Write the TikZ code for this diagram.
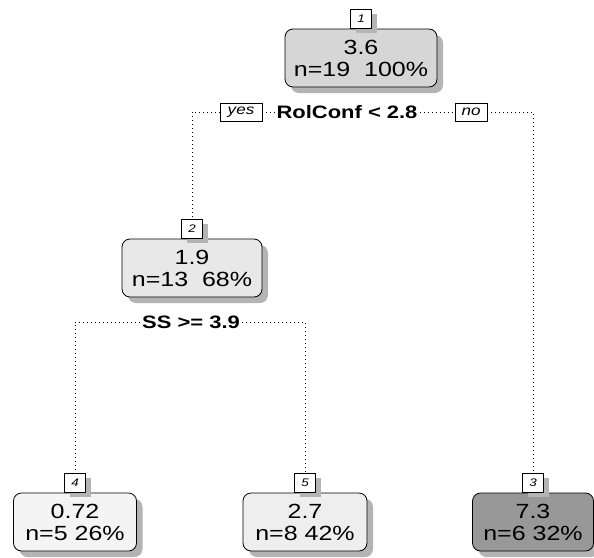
\documentclass[tikz,border=0pt]{standalone}
\usepackage{fontspec}
\setmainfont[FakeStretch=1.22]{Liberation Sans}
\usetikzlibrary{positioning}
\definecolor{leafwhite}{RGB}{244,244,244}
\definecolor{leafpale}{RGB}{238,238,238}
\definecolor{nodelight}{RGB}{232,232,232}
\definecolor{rootgray}{RGB}{214,214,214}
\definecolor{leafdark}{RGB}{152,152,152}
\definecolor{shadowgray}{RGB}{180,180,180}
\tikzset{
  treebox/.style={rectangle,rounded corners=8pt,draw=black,thick,align=center,
    minimum height=58pt,minimum width=#1,inner sep=2pt,
    font=\fontsize{20.5}{22}\selectfont},
  numbox/.style={rectangle,draw=black,fill=white,thick,minimum width=21pt,minimum height=19pt,
    inner sep=0pt,font=\fontsize{11}{11}\selectfont\itshape},
  answerbox/.style={rectangle,draw=black,fill=white,minimum height=18pt,inner sep=2pt,
    font=\fontsize{14}{14}\selectfont\itshape},
  splittext/.style={font=\fontsize{18}{18}\selectfont\bfseries,inner sep=2pt,fill=white},
  branch/.style={draw=black,line width=0.8pt,dash pattern=on 0.8pt off 3.2pt},
  boxshadow/.style={rectangle,rounded corners=8pt,fill=shadowgray,minimum height=58pt,
    minimum width=#1,inner sep=0pt},
  numshadow/.style={rectangle,fill=shadowgray,minimum width=21pt,minimum height=19pt,inner sep=0pt}
}
\begin{document}
\begin{tikzpicture}[x=1pt,y=1pt]
  \useasboundingbox (0,0) rectangle (594,-557);

  %% Shadows first
  \node[boxshadow=152pt] (sh1) at (367,-64) {};
  \node[boxshadow=140pt] (sh2) at (198,-274) {};
  \node[boxshadow=123pt] (sh4) at (81,-528) {};
  \node[boxshadow=124pt] (sh5) at (311,-528) {};
  \node[boxshadow=121pt] (sh3) at (539,-528) {};

  %% Root node
  \node[treebox=152pt,fill=rootgray] (n1) at (361,-58) {3.6\\n=19\ \ 100\%};
  \node[numshadow,above=0pt of n1.north,xshift=5pt,yshift=-5pt] (ls1) {};
  \node[numbox,above=0pt of n1.north] (lab1) {1};
  \node[splittext] (s1) at (347,-112) {RolConf < 2.8};
  \node[answerbox,minimum width=42pt] (yes) at (241,-112) {yes};
  \node[answerbox,minimum width=32pt] (no) at (471,-112) {no};

  %% Inner node
  \node[treebox=140pt,fill=nodelight] (n2) at (192,-268) {1.9\\n=13\ \ 68\%};
  \node[numshadow,above=0pt of n2.north,xshift=5pt,yshift=-5pt] (ls2) {};
  \node[numbox,above=0pt of n2.north] (lab2) {2};
  \node[splittext] (s2) at (191,-322) {SS >= 3.9};

  %% Leaves
  \node[treebox=123pt,fill=leafwhite] (n4) at (75,-522) {0.72\\n=5 26\%};
  \node[numshadow,above=0pt of n4.north,xshift=5pt,yshift=-5pt] (ls4) {};
  \node[numbox,above=0pt of n4.north] (lab4) {4};
  \node[treebox=124pt,fill=leafpale] (n5) at (305,-522) {2.7\\n=8 42\%};
  \node[numshadow,above=0pt of n5.north,xshift=5pt,yshift=-5pt] (ls5) {};
  \node[numbox,above=0pt of n5.north] (lab5) {5};
  \node[treebox=121pt,fill=leafdark] (n3) at (533,-522) {7.3\\n=6 32\%};
  \node[numshadow,above=0pt of n3.north,xshift=5pt,yshift=-5pt] (ls3) {};
  \node[numbox,above=0pt of n3.north] (lab3) {3};

  %% Branches
  \draw[branch] (s1.west) -- (yes.east);
  \draw[branch] (yes.west) -| (lab2.north);
  \draw[branch] (s1.east) -- (no.west);
  \draw[branch] (no.east) -| (lab3.north);
  \draw[branch] (s2.west) -| (lab4.north);
  \draw[branch] (s2.east) -| (lab5.north);
\end{tikzpicture}
\end{document}
